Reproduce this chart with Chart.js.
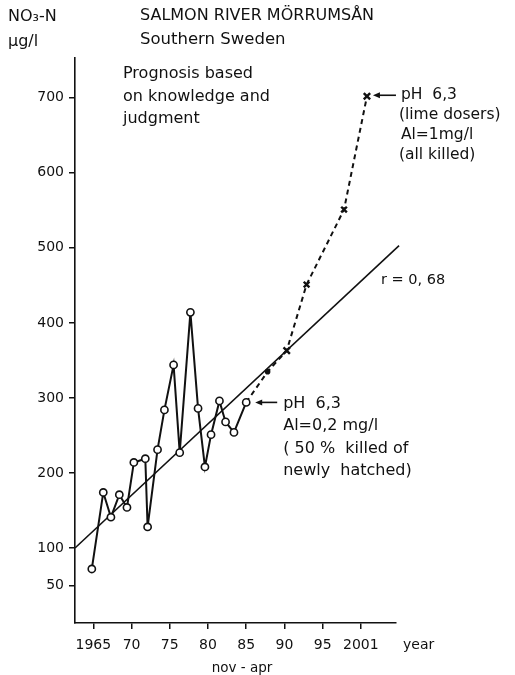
<!DOCTYPE html>
<html>
<head>
<meta charset="utf-8">
<script src="https://cdn.jsdelivr.net/npm/chart.js@4/dist/chart.umd.min.js"></script>
<style>
html,body{margin:0;padding:0;background:#fff;}
#wrap{width:515px;height:675px;position:relative;}
</style>
</head>
<body>
<div id="wrap"><canvas id="c" width="515" height="675"></canvas></div>
<script>
// Observed NO3-N (nov-apr means), year and value
const obsYears  = [1964.8,1966.3,1967.3,1968.4,1969.4,1970.3,1971.8,1972.1,1973.4,1974.3,1975.5,1976.3,1977.7,1978.7,1979.6,1980.4,1981.5,1982.3,1983.4,1985.0];
const obsValues = [72,174,141,171,154,214,219,128,231,284,344,227,414,286,208,251,296,268,254,294];
// Prognosis (dashed)
const progYears  = [1985.0,1987.8,1990.3,1992.9,1997.8,2000.8];
const progValues = [294,335,363,451,551,702];
// Regression line end points
const regYears  = [1962.6,2005.0];
const regValues = [100,503];
// Axis ticks
const xTickValues = [1965,1970,1975,1980,1985,1990,1995,2000];
const xTickLabels = ['1965','70','75','80','85','90','95','2001'];
const yTickValues = [50,100,200,300,400,500,600,700];

const pts = (xs, ys) => xs.map((x,i)=>({x:x,y:ys[i]}));
const FONT = '"DejaVu Sans", sans-serif';
const INK = '#111';

const textPlugin = {
  id:'texts',
  afterDraw(chart){
    const ctx = chart.ctx, xs = chart.scales.x, ys = chart.scales.y;
    ctx.save();
    ctx.fillStyle = INK; ctx.strokeStyle = INK;
    ctx.textBaseline = 'middle'; ctx.textAlign = 'left';
    const t = (s,x,y,size,align)=>{ctx.font = (size||14)+'px '+FONT; ctx.textAlign = align||'left'; ctx.fillText(s,x,y);};
    t('NO₃-N', 8, 17, 16);
    t('μg/l', 8, 42, 16);
    t('SALMON RIVER MÖRRUMSÅN', 140, 16, 16);
    t('Southern Sweden', 140, 40, 16.5);
    t('Prognosis based', 123, 74, 16);
    t('on knowledge and', 123, 97, 16);
    t('judgment', 123, 119, 16);
    t('r = 0, 68', 381, 280, 14.5);
    t('year', 403, 645, 14);
    t('nov - apr', 242, 668, 13.5, 'center');
    const arrow = (x1,x2,y)=>{
      ctx.lineWidth = 1.6;
      ctx.beginPath(); ctx.moveTo(x1+5,y); ctx.lineTo(x2,y); ctx.stroke();
      ctx.beginPath(); ctx.moveTo(x1,y); ctx.lineTo(x1+7,y-3); ctx.lineTo(x1+7,y+3); ctx.closePath(); ctx.fill();
    };
    // top annotation
    const n = progYears.length-1;
    const ax = xs.getPixelForValue(progYears[n]), ay = ys.getPixelForValue(progValues[n]);
    arrow(ax+6, ax+29, ay-1);
    t('pH  6,3', ax+34, ay-1, 15.5);
    t('(lime dosers)', ax+32, ay+19, 15.5);
    t('Al=1mg/l', ax+34, ay+39, 15.5);
    t('(all killed)', ax+32, ay+59, 15.5);
    // lower annotation
    const m = obsYears.length-1;
    const bx = xs.getPixelForValue(obsYears[m]), by = ys.getPixelForValue(obsValues[m]);
    arrow(bx+9, bx+31, by);
    t('pH  6,3', bx+37, by+1, 16);
    t('Al=0,2 mg/l', bx+37, by+23, 16);
    t('( 50 %  killed of', bx+37, by+46, 16);
    t('newly  hatched)', bx+37, by+68, 16);
    ctx.restore();
  }
};

new Chart(document.getElementById('c'), {
  type:'scatter',
  data:{datasets:[
    {data:pts(regYears,regValues), showLine:true, borderColor:INK, borderWidth:1.6, pointRadius:0, clip:false, order:3},
    {data:pts(progYears,progValues), showLine:true, borderColor:INK, borderWidth:2, borderDash:[5,4],
     pointStyle:['circle','circle','crossRot','crossRot','crossRot','crossRot'],
     pointRadius:[0,1.6,4.5,4,4,4.5], pointBorderWidth:2.4, pointBorderColor:INK, pointBackgroundColor:INK, order:2},
    {data:pts(obsYears,obsValues), showLine:true, borderColor:INK, borderWidth:2, pointStyle:'circle',
     pointRadius:3.6, pointBorderWidth:1.6, pointBorderColor:INK, pointBackgroundColor:'#fff', order:1}
  ]},
  options:{
    responsive:false, animation:false, devicePixelRatio:1,
    layout:{padding:{left:0,right:119,top:58,bottom:0}},
    plugins:{legend:{display:false}, tooltip:{enabled:false}},
    scales:{
      x:{type:'linear', min:1962.6, max:2004.6,
         afterBuildTicks:s=>{s.ticks = xTickValues.map(v=>({value:v}));},
         afterFit:s=>{s.height = 52;},
         grid:{drawOnChartArea:false, drawTicks:true, tickLength:6, color:INK, lineWidth:1.5},
         border:{display:true, color:INK, width:1.6},
         ticks:{color:INK, font:{family:FONT, size:14}, padding:8, maxRotation:0, autoSkip:false,
                callback:v=>{const i = xTickValues.indexOf(v); return i>=0 ? xTickLabels[i] : '';}}},
      y:{type:'linear', min:0, max:753,
         afterBuildTicks:s=>{s.ticks = yTickValues.map(v=>({value:v}));},
         afterFit:s=>{s.width = 75;},
         grid:{drawOnChartArea:false, drawTicks:true, tickLength:6, color:INK, lineWidth:1.5},
         border:{display:true, color:INK, width:1.6},
         ticks:{color:INK, font:{family:FONT, size:14}, padding:5, autoSkip:false}}
    }
  },
  plugins:[textPlugin]
});
</script>
</body>
</html>
